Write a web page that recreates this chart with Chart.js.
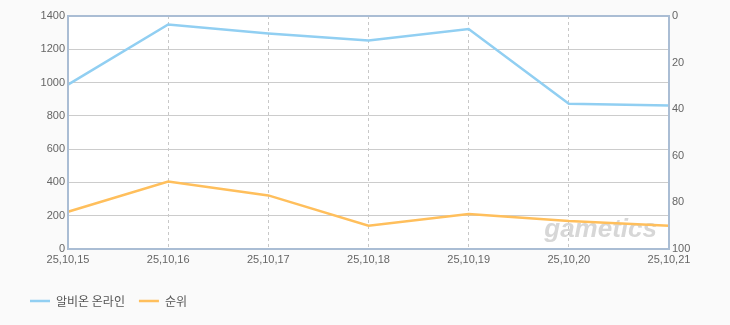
<!DOCTYPE html>
<html>
<head>
<meta charset="utf-8">
<script src="https://cdn.jsdelivr.net/npm/chart.js@4"></script>
<style>
  body { margin: 0; background: #fafafa; }
</style>
</head>
<body>
<canvas id="rankChart" width="730" height="325"></canvas>
<script>
    const dates = ['25,10,15', '25,10,16', '25,10,17', '25,10,18', '25,10,19', '25,10,20', '25,10,21'];
    const albionValues = [988, 1349, 1295, 1253, 1322, 872, 862];
    const rankValues = [84, 71, 77, 90, 85, 88, 90];
    const leftTicks = { min: 0, max: 1400, step: 200 };
    const rightTicks = { min: 0, max: 100, step: 20 };

    const tickFont = { family: 'Liberation Sans, Arial, sans-serif', size: 11 };

    // white plot box, blue-grey frame and the gametics watermark
    const plotFrame = {
        id: 'plotFrame',
        beforeDraw(chart) {
            const { ctx, chartArea: a } = chart;
            ctx.save();
            ctx.fillStyle = '#fafafa';
            ctx.fillRect(0, 0, chart.width, chart.height);
            ctx.fillStyle = '#ffffff';
            ctx.fillRect(a.left, a.top, a.right - a.left, a.bottom - a.top);
            ctx.restore();
        },
        beforeDatasetsDraw(chart) {
            const { ctx, chartArea: a } = chart;
            ctx.save();
            ctx.font = 'italic bold 26px "Liberation Sans", Arial, sans-serif';
            ctx.fillStyle = 'rgba(175, 175, 175, 0.5)';
            ctx.textAlign = 'right';
            ctx.textBaseline = 'alphabetic';
            ctx.fillText('gametics', a.right - 12, a.bottom - 12);
            ctx.restore();
        },
        afterDraw(chart) {
            const { ctx, chartArea: a } = chart;
            ctx.save();
            ctx.strokeStyle = '#aabdd4';
            ctx.lineWidth = 2;
            ctx.strokeRect(a.left, a.top, a.right - a.left, a.bottom - a.top);
            ctx.restore();
        }
    };

    const rankChart = new Chart(document.getElementById('rankChart'), {
        type: 'line',
        data: {
            labels: dates,
            datasets: [
                {
                    label: '알비온 온라인',
                    data: albionValues,
                    yAxisID: 'y',
                    borderColor: 'rgb(145, 207, 242)',
                    backgroundColor: 'rgb(145, 207, 242)',
                    borderWidth: 2.5,
                    pointRadius: 0,
                    tension: 0
                },
                {
                    label: '순위',
                    data: rankValues,
                    yAxisID: 'y1',
                    borderColor: 'rgb(255, 191, 92)',
                    backgroundColor: 'rgb(255, 191, 92)',
                    borderWidth: 2.5,
                    pointRadius: 0,
                    tension: 0
                }
            ]
        },
        options: {
            responsive: false,
            animation: false,
            layout: { padding: { left: 16, right: 0, top: 16, bottom: 8 } },
            plugins: {
                tooltip: { enabled: false },
                legend: {
                    position: 'bottom',
                    align: 'start',
                    labels: {
                        usePointStyle: true,
                        pointStyle: 'line',
                        pointStyleWidth: 20,
                        padding: 14,
                        color: '#555555',
                        font: { family: '"Noto Sans CJK KR", sans-serif', size: 12 }
                    }
                }
            },
            scales: {
                x: {
                    offset: false,
                    grid: { color: '#c8c8c8', drawTicks: false },
                    border: { display: false, dash: [3, 3] },
                    ticks: { color: '#666666', font: tickFont, padding: 4, maxRotation: 0, autoSkip: false },
                    afterFit(scale) { scale.height = 32; }
                },
                y: {
                    position: 'left',
                    min: leftTicks.min,
                    max: leftTicks.max,
                    grid: { color: '#cccccc', drawTicks: false },
                    border: { display: false },
                    ticks: {
                        stepSize: leftTicks.step, color: '#666666', font: tickFont, padding: 3,
                        callback: (v) => String(v)
                    },
                    afterFit(scale) { scale.width = 52; }
                },
                y1: {
                    position: 'right',
                    reverse: true,
                    min: rightTicks.min,
                    max: rightTicks.max,
                    grid: { drawOnChartArea: false, drawTicks: false },
                    border: { display: false },
                    ticks: {
                        stepSize: rightTicks.step, color: '#666666', font: tickFont, padding: 3,
                        callback: (v) => String(v)
                    },
                    afterFit(scale) { scale.width = 61; }
                }
            }
        },
        plugins: [plotFrame]
    });
</script>
</body>
</html>
